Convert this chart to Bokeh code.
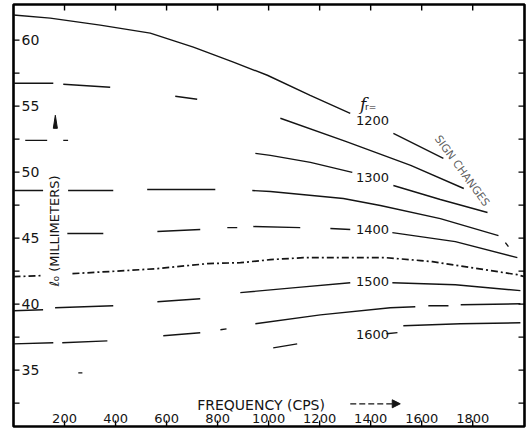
import math
from bokeh.plotting import figure
from bokeh.models import Range1d, Arrow, NormalHead
from bokeh.core.properties import value
from bokeh.embed import file_html
from bokeh.resources import INLINE

nan = float("nan")

# ---- axes / ticks ----
x_ticks = [200, 400, 600, 800, 1000, 1200, 1400, 1600, 1800]
x_tick_labels = ["200", "400", "600", "800", "1000", "1200", "1400", "1600", "1800"]
y_ticks = [32.5, 35, 37.5, 40, 42.5, 45, 47.5, 50, 52.5, 55, 57.5, 60]
y_label_values = [35, 40, 45, 50, 55, 60]
y_tick_labels = ["35", "40", "45", "50", "55", "60"]

# ---- curves (frequency in cps, l0 in mm); nan marks a break in the trace ----
fr1200_x = [0, 144, 340, 536, 705, 862, 995, 1163, 1320, nan, 1489, 1685]
fr1200_y = [61.90, 61.67, 61.14, 60.53, 59.47, 58.33, 57.34, 55.82, 54.46, nan, 52.94, 51.04]

fr1250_x = [0, 156, nan, 195, 379, nan, 634, 720, nan, 1046, 1302, 1557, 1765]
fr1250_y = [56.73, 56.73, nan, 56.66, 56.43, nan, 55.75, 55.52, nan, 54.08, 52.33, 50.51, 48.76]

fr1300_x = [46, 132, nan, 195, 214, nan, 948, 1007, 1164, 1328, nan, 1489, 1673, 1858]
fr1300_y = [52.41, 52.41, nan, 52.41, 52.41, nan, 51.42, 51.27, 50.74, 49.98, nan, 48.99, 47.93, 46.94]

fr1350_x = [0, 116, nan, 214, 391, nan, 524, 791, nan, 936, 1007, 1293, 1438, 1673, 1901, nan, 1928, 1940]
fr1350_y = [48.61, 48.61, nan, 48.61, 48.61, nan, 48.69, 48.69, nan, 48.61, 48.53, 48.00, 47.47, 46.48, 45.19, nan, 44.66, 44.36]

fr1400_x = [211, 352, nan, 564, 732, nan, 838, 877, nan, 940, 1124, nan, 1242, 1320, nan, 1485, 1732, 1975]
fr1400_y = [45.35, 45.35, nan, 45.50, 45.65, nan, 45.80, 45.80, nan, 45.88, 45.80, nan, 45.73, 45.65, nan, 45.42, 44.74, 43.52]

zero_x = [0, 114, nan, 231, 439, 565, 761, 890, 1007, 1136, 1329, 1459, 1596, 1642, 1810, 1975, 2003]
zero_y = [42.08, 42.16, nan, 42.31, 42.54, 42.69, 43.07, 43.14, 43.37, 43.52, 43.52, 43.52, 43.30, 43.22, 42.72, 42.23, 42.08]

fr1500_x = [0, 116, nan, 163, 391, nan, 564, 732, nan, 889, 1105, 1320, nan, 1485, 1732, 1987]
fr1500_y = [39.50, 39.57, nan, 39.73, 39.88, nan, 40.18, 40.41, nan, 40.87, 41.25, 41.62, nan, 41.62, 41.47, 41.02]

fr1550_x = [0, 156, nan, 191, 368, nan, 587, 732, nan, 811, 835, nan, 948, 1203, 1477, 1575, nan, 1626, 1705, nan, 1753, 1987]
fr1550_y = [36.99, 37.07, nan, 37.07, 37.22, nan, 37.60, 37.83, nan, 38.06, 38.13, nan, 38.51, 39.19, 39.73, 39.80, nan, 39.88, 39.88, nan, 39.95, 40.03]

fr1600_x = [254, 270, nan, 1018, 1112, nan, 1462, 1505, nan, 1528, 1752, 1987]
fr1600_y = [34.79, 34.79, nan, 36.69, 36.99, nan, 37.76, 37.84, nan, 38.36, 38.51, 38.59]

# ---- curve labels ----
label_x = [1407, 1407, 1407, 1407, 1407]
label_y = [53.92, 49.56, 45.65, 41.70, 37.68]
label_text = ["1200", "1300", "1400", "1500", "1600"]

INK = "#141414"
FONT = value("DejaVu Sans")

W, H = 531, 438
BL, BR, BT, BB = 13, 7, 4, 12
X0, X1 = 0, 2003
Y0, Y1 = 30.73, 62.70

p = figure(width=W, height=H, x_range=Range1d(X0, X1), y_range=Range1d(Y0, Y1),
           output_backend="svg", toolbar_location=None,
           min_border_left=BL, min_border_right=BR, min_border_top=BT, min_border_bottom=BB)
p.xaxis.visible = False
p.yaxis.visible = False
p.grid.visible = False
p.outline_line_color = "black"
p.outline_line_width = 2.6
p.background_fill_color = "white"
p.border_fill_color = "white"

# inward tick marks on all four sides (6 px long), derived from the tick arrays
TICK_PX = 6
tx = TICK_PX * (X1 - X0) / (W - BL - BR)
ty = TICK_PX * (Y1 - Y0) / (H - BT - BB)
p.segment(x0=x_ticks, y0=[Y0] * len(x_ticks), x1=x_ticks, y1=[Y0 + ty] * len(x_ticks),
          line_color="black", line_width=1.4)
p.segment(x0=x_ticks, y0=[Y1] * len(x_ticks), x1=x_ticks, y1=[Y1 - ty] * len(x_ticks),
          line_color="black", line_width=1.4)
p.segment(x0=[X0] * len(y_ticks), y0=y_ticks, x1=[X0 + tx] * len(y_ticks), y1=y_ticks,
          line_color="black", line_width=1.4)
p.segment(x0=[X1] * len(y_ticks), y0=y_ticks, x1=[X1 - tx] * len(y_ticks), y1=y_ticks,
          line_color="black", line_width=1.4)

# curves
for xs, ys in [(fr1200_x, fr1200_y), (fr1250_x, fr1250_y), (fr1300_x, fr1300_y),
               (fr1350_x, fr1350_y), (fr1400_x, fr1400_y), (fr1500_x, fr1500_y),
               (fr1550_x, fr1550_y), (fr1600_x, fr1600_y)]:
    p.line(xs, ys, line_color=INK, line_width=1.4)
p.line(zero_x, zero_y, line_color=INK, line_width=1.7, line_dash="7 3 2 3")

# tick labels inside frame
p.text(x=[X0] * len(y_label_values), y=y_label_values, text=y_tick_labels, x_offset=8,
       text_align="left", text_baseline="middle", text_font=FONT, text_font_size="14px",
       text_color=INK)
p.text(x=x_ticks, y=[31.3] * len(x_ticks), text=x_tick_labels, text_align="center",
       text_baseline="middle", text_font=FONT, text_font_size="13px", text_color=INK)

# curve labels
p.text(x=label_x, y=label_y, text=label_text, text_align="center", text_baseline="middle",
       text_font=FONT, text_font_size="13px", text_color=INK)
p.text(x=[1371], y=[55.14], text=["f"], text_align="center", text_baseline="middle",
       text_font=value("DejaVu Serif"), text_font_size="17px", text_font_style="italic",
       text_color=INK)
p.text(x=[1400], y=[54.9], text=["r="], text_align="center", text_baseline="middle",
       text_font=FONT, text_font_size="9px", text_color=INK)

# rotated annotation
p.text(x=[1758], y=[50.1], text=["SIGN CHANGES"], angle=-0.94, text_align="center",
       text_baseline="middle", text_font=FONT, text_font_size="11px", text_color="#333333",
       text_alpha=0.8)

# axis titles
p.text(x=[160], y=[49.75], text=["ℓ₀ (MILLIMETERS)"], angle=math.pi / 2, text_align="right",
       text_baseline="middle", text_font=FONT, text_font_size="13px", text_color=INK)
p.text(x=[720], y=[32.36], text=["FREQUENCY   (CPS)"], text_align="left", text_baseline="middle",
       text_font=FONT, text_font_size="14px", text_color=INK)
p.add_layout(Arrow(end=NormalHead(size=8, fill_color=INK, line_color=INK),
                   x_start=1320, y_start=32.45, x_end=1516, y_end=32.45,
                   line_color=INK, line_width=1.2, line_dash="6 3"))

# small marker near the 55 label
p.patch([156, 164, 172], [53.32, 54.31, 53.32], fill_color=INK, line_color=INK)

open("out.html", "w").write(file_html(p, INLINE))
